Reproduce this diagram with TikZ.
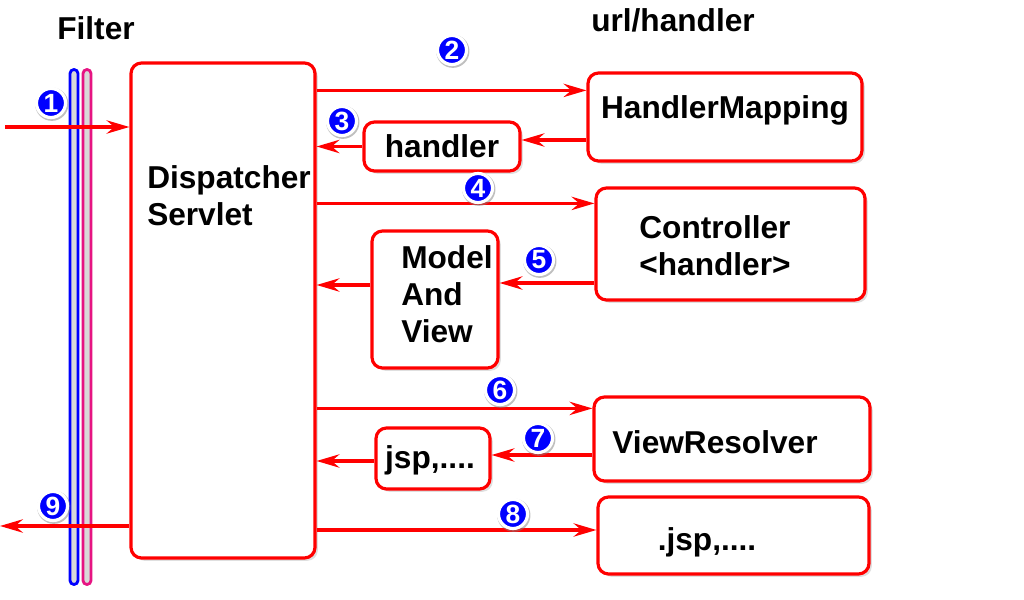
\documentclass[tikz,border=0pt]{standalone}
\usepackage{fontspec}
\setmainfont{Liberation Sans}
\usetikzlibrary{positioning, arrows.meta, shadows}
\definecolor{filterpink}{RGB}{230,20,130}

\begin{document}
\begin{tikzpicture}[
    >={Stealth[length=6.5pt, width=3.8pt, inset=2.2pt]},
    box/.style={draw=red, line width=0.9pt, rounded corners=3pt, fill=white, inner sep=0pt,
        drop shadow={shadow xshift=0.8pt, shadow yshift=-0.8pt, opacity=0.25}},
    bar/.style={line width=0.8pt, rounded corners=0.04cm, minimum width=0.08cm, minimum height=5.15cm, inner sep=0pt, fill=black!15},
    lbl/.style={font=\fontsize{9}{10.5}\selectfont\bfseries, align=left, inner sep=0pt},
    num/.style={circle, fill=blue, draw=white, line width=0.9pt, inner sep=0pt, minimum size=0.29cm, text=white,
        font=\fontsize{7.5}{7.5}\selectfont\bfseries,
        drop shadow={shadow scale=1.15, shadow xshift=0.2pt, shadow yshift=-0.3pt, opacity=0.5}},
    flow/.style={->, red, line width=0.9pt}
]
\useasboundingbox (0,0) rectangle (10.24,6.00);

% filter
\node[lbl] (filter) at (0.96,5.72) {Filter};
\node[bar, draw=blue] (fb) at (0.74,2.73) {};
\node[bar, draw=filterpink] (fp) at (0.87,2.73) {};

% boxes
\node[box, minimum width=1.84cm, minimum height=4.95cm] (ds) at (2.23,2.895) {};
\node[lbl] (dst) at (2.29,4.04) {Dispatcher\\Servlet};

\node[lbl] (url) at (6.73,5.80) {url/handler};
\node[box, minimum width=2.74cm, minimum height=0.88cm] (hm) at (7.25,4.83) {};
\node[lbl] at (7.25,4.90) {HandlerMapping};
\node[box, minimum width=1.56cm, minimum height=0.49cm, lbl] (hd) at (4.42,4.535) {handler};

\node[box, minimum width=2.69cm, minimum height=1.12cm] (ctl) at (7.305,3.56) {};
\node[lbl] at (7.15,3.54) {Controller\\<handler>};
\node[box, minimum width=1.26cm, minimum height=1.37cm] (mav) at (4.35,3.005) {};
\node[lbl] at (4.47,3.06) {Model\\And\\View};

\node[box, minimum width=2.76cm, minimum height=0.84cm] (vr) at (7.32,1.61) {};
\node[lbl] at (7.15,1.58) {ViewResolver};
\node[box, minimum width=1.14cm, minimum height=0.61cm] (jsp) at (4.33,1.415) {};
\node[lbl] at (4.30,1.40) {jsp,....};

\node[box, minimum width=2.71cm, minimum height=0.77cm] (view) at (7.335,0.645) {};
\node[lbl] at (7.07,0.58) {.jsp,....};

% request in / response out
\coordinate (in) at (0.05,4.73);
\coordinate (out) at (0.0,0.74);
\draw[flow] (in) -- (in -| ds.west);
\draw[flow] (ds.west |- out) -- (out);

% flow
\draw[flow] ([yshift=-0.19cm]hm.north west -| ds.east) -- ([yshift=-0.19cm]hm.north west);
\draw[flow] ([yshift=-0.23cm]hm.west) -- ([yshift=-0.23cm]hm.west -| hd.east);
\draw[flow] (hd.west) -- (hd.west -| ds.east);
\draw[flow] ([yshift=-0.17cm]ctl.north west -| ds.east) -- ([yshift=-0.17cm]ctl.north west);
\draw[flow] ([yshift=-0.39cm]ctl.west) -- ([yshift=-0.39cm]ctl.west -| mav.east);
\draw[flow] ([yshift=0.145cm]mav.west) -- ([yshift=0.145cm]mav.west -| ds.east);
\draw[flow] ([yshift=-0.13cm]vr.north west -| ds.east) -- ([yshift=-0.13cm]vr.north west);
\draw[flow] ([yshift=-0.16cm]vr.west) -- ([yshift=-0.16cm]vr.west -| jsp.east);
\draw[flow] ([yshift=-0.025cm]jsp.west) -- ([yshift=-0.025cm]jsp.west -| ds.east);
\draw[flow] ([yshift=0.055cm]view.west -| ds.east) -- ([yshift=0.055cm]view.west);

% steps
\node[num] (n1) at (0.51,4.97) {1};
\node[num] (n2) at (4.52,5.50) {2};
\node[num] (n3) at (3.42,4.79) {3};
\node[num] (n4) at (4.78,4.12) {4};
\node[num] (n5) at (5.39,3.40) {5};
\node[num] (n6) at (5.00,2.10) {6};
\node[num] (n7) at (5.38,1.62) {7};
\node[num] (n8) at (5.13,0.86) {8};
\node[num] (n9) at (0.53,0.94) {9};
\end{tikzpicture}
\end{document}
